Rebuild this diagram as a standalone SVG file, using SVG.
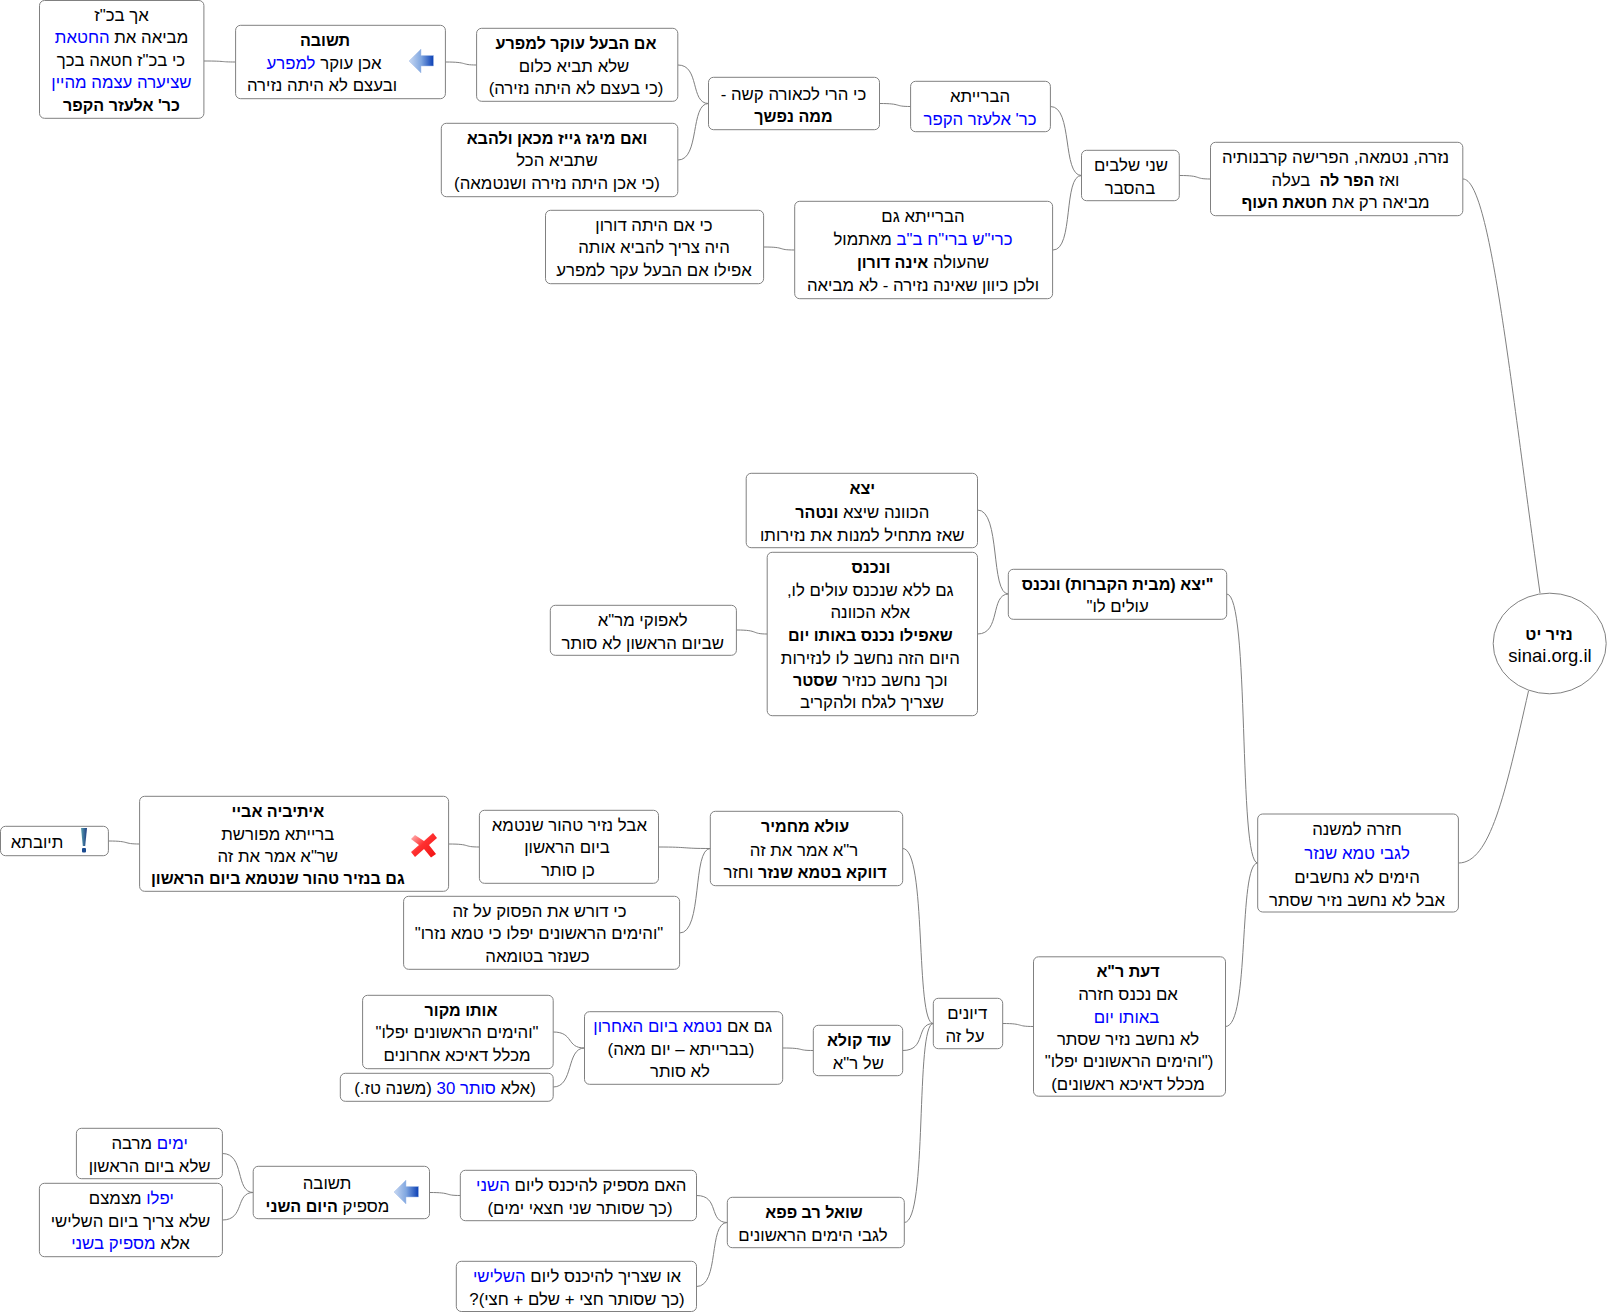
<svg xmlns="http://www.w3.org/2000/svg" width="1607" height="1312" viewBox="0 0 1607 1312">
<style>
.n{fill:#fff;stroke:#808080;stroke-width:1}
text{font-family:"Liberation Sans",Arial,sans-serif;font-size:16.800px;fill:#000;text-anchor:middle;direction:rtl;white-space:pre}
.b{font-weight:bold;font-size:16.100px}
.u{fill:#0000ff}
.c{fill:none;stroke:#808080;stroke-width:1}
.up text{transform:translateY(-1px)}
</style>
<defs>
<linearGradient id="ga" x1="0" x2="1" y1="0" y2="0"><stop offset="0" stop-color="#c8d8f2"/><stop offset="0.5" stop-color="#7fa6e0"/><stop offset="1" stop-color="#0b3fb5"/></linearGradient>
<linearGradient id="gx" x1="0" x2="1" y1="0" y2="1"><stop offset="0" stop-color="#ffc8c8"/><stop offset="0.45" stop-color="#ff3030"/><stop offset="1" stop-color="#f01010"/></linearGradient>
<linearGradient id="ge" x1="0" x2="1" y1="0" y2="0"><stop offset="0" stop-color="#5aa0b0"/><stop offset="1" stop-color="#1a3a80"/></linearGradient>
<path id="arrow" d="M0,12 L12,0 V6.500 H24.500 V17 H12 V24 Z" fill="url(#ga)" stroke="#a8c0e8" stroke-width="0.500"/>
</defs>
<g id="connectors">
<path class="c" d="M204,61 C227,61 219,62 235.500,62"/>
<path class="c" d="M445.500,62 C469,62 460,65 476.500,65"/>
<path class="c" d="M678,65 C700,65 690,103.500 708.500,103.500"/>
<path class="c" d="M678,160 C700,160 690,103.500 708.500,103.500"/>
<path class="c" d="M879.500,103.500 C903,103.500 893,106.500 910.500,106.500"/>
<path class="c" d="M1050.500,106.500 C1073,106.500 1062,175.500 1081.500,175.500"/>
<path class="c" d="M1053,250 C1074,250 1063,175.500 1081.500,175.500"/>
<path class="c" d="M764,247 C787,247 776,250 794.500,250"/>
<path class="c" d="M1179.500,175.500 C1203,175.500 1193,179 1210.500,179"/>
<path class="c" d="M1463,179 C1490,179 1510,380 1540,593"/>
<path class="c" d="M1528.500,691 C1505,795 1490,863 1458.500,863"/>
<path class="c" d="M1226.700,594 C1250,594 1238,863 1257.700,863"/>
<path class="c" d="M1225.500,1026.500 C1250,1026.500 1238,863 1257.700,863"/>
<path class="c" d="M977.500,510 C1001,510 990,594 1008.500,594"/>
<path class="c" d="M977.500,634 C1001,634 990,594 1008.500,594"/>
<path class="c" d="M736.500,630 C760,630 750,634 767.500,634"/>
<path class="c" d="M1002.700,1023.500 C1025,1023.500 1015,1026.500 1033.500,1026.500"/>
<path class="c" d="M902.700,848.500 C927,848.500 915,1023.500 933.300,1023.500"/>
<path class="c" d="M902.700,1050.500 C927,1050.500 915,1023.500 933.300,1023.500"/>
<path class="c" d="M904.300,1222.500 C928,1222.500 915,1023.500 933.300,1023.500"/>
<path class="c" d="M658.500,847 C690,847 680,848.500 710.400,848.500"/>
<path class="c" d="M679.600,933 C703,933 692,848.500 710.400,848.500"/>
<path class="c" d="M448.700,844 C472,844 462,847 479.400,847"/>
<path class="c" d="M108.500,841 C131,841 122,844 139.600,844"/>
<path class="c" d="M782.700,1048 C806,1048 796,1050.500 813.300,1050.500"/>
<path class="c" d="M553.200,1032 C574,1032 566,1048 584.500,1048"/>
<path class="c" d="M553.200,1087 C574,1087 566,1048 584.500,1048"/>
<path class="c" d="M696.500,1195.500 C720,1195.500 708,1222.500 727.300,1222.500"/>
<path class="c" d="M696.500,1286.500 C720,1286.500 708,1222.500 727.300,1222.500"/>
<path class="c" d="M429.500,1192.500 C453,1192.500 443,1195.500 460.300,1195.500"/>
<path class="c" d="M222.400,1153.500 C245,1153.500 235,1192.500 253.200,1192.500"/>
<path class="c" d="M222.400,1220 C245,1220 235,1192.500 253.200,1192.500"/>
</g>
<g id="n-root"><ellipse class="n" cx="1549.700" cy="643.500" rx="56.500" ry="50.300"/>
<text class="b" x="1549" y="640">נזיר יט</text><text x="1550" y="662" style="font-size:18.500px">sinai.org.il</text></g>
<g id="n-hazara"><rect class="n" x="1257.700" y="814" width="200.700" height="98" rx="5"/>
<text x="1357" y="835">חזרה למשנה</text><text class="u" x="1357" y="859">לגבי טמא שנזר</text><text x="1357" y="883">הימים לא נחשבים</text><text x="1357" y="906">אבל לא נחשב נזיר שסתר</text></g>
<g id="n-nezira" class="up"><rect class="n" x="1210.500" y="142.300" width="252.300" height="73.400" rx="5"/>
<text x="1335.500" y="163.500">נזרה, נטמאה, הפרישה קרבנותיה</text><text x="1335.500" y="186.500">ואז <tspan class="b">הפר לה</tspan>  בעלה</text><text x="1335.500" y="208.500">מביאה רק את <tspan class="b">חטאת העוף</tspan></text></g>
<g id="n-shnei"><rect class="n" x="1081.500" y="150.300" width="97.800" height="50.400" rx="5"/>
<text x="1131" y="171">שני שלבים</text><text x="1130" y="194">בהסבר</text></g>
<g id="n-braita1" class="up"><rect class="n" x="910.600" y="81.300" width="139.800" height="50.400" rx="5"/>
<text x="980" y="102.500">הברייתא</text><text class="u" x="980" y="126">כר' אלעזר הקפר</text></g>
<g id="n-braita2" class="up"><rect class="n" x="794.700" y="201.300" width="257.900" height="97.400" rx="5"/>
<text x="923" y="222.500">הברייתא גם</text><text x="923" y="245.500"><tspan class="u">כרי"ש ברי"ח ב"ב</tspan> מאתמול</text><text x="923" y="268.500">שהעולה <tspan class="b">אינה דורון</tspan></text><text x="923" y="291.500">ולכן כיוון שאינה נזירה - לא מביאה</text></g>
<g id="n-dorom" class="up"><rect class="n" x="545.500" y="210.300" width="218.100" height="73.400" rx="5"/>
<text x="654" y="231.500">כי אם היתה דורון</text><text x="654" y="254">היה צריך להביא אותה</text><text x="654" y="276.500">אפילו אם הבעל עקר למפרע</text></g>
<g id="n-kashe" class="up"><rect class="n" x="708.500" y="77.300" width="171" height="52.400" rx="5"/>
<text x="793.500" y="101">כי הרי לכאורה קשה -</text><text class="b" x="793.500" y="123">ממה נפשך</text></g>
<g id="n-baal"><rect class="n" x="476.600" y="28.300" width="201.200" height="73" rx="5"/>
<text class="b" x="576" y="49">אם הבעל עוקר למפרע</text><text x="574" y="72">שלא תביא כלום</text><text x="576" y="94">(כי בעצם לא היתה נזירה)</text></g>
<g id="n-migaz" class="up"><rect class="n" x="441.300" y="123.300" width="236.500" height="73.400" rx="5"/>
<text class="b" x="557" y="144.500">ואם מיגז גייז מכאן ולהבא</text><text x="557" y="167">שתביא הכל</text><text x="557" y="189.500">(כי אכן היתה נזירה ושנטמאה)</text></g>
<g id="n-tshuva1"><rect class="n" x="235.600" y="25.300" width="209.800" height="73.400" rx="5"/>
<text class="b" x="325" y="46">תשובה</text><text x="324" y="69">אכן עוקר <tspan class="u">למפרע</tspan></text><text x="322" y="91">ובעצם לא היתה נזירה</text>
<use href="#arrow" x="409" y="49"/></g>
<g id="n-akh" class="up"><rect class="n" x="39.500" y="0.500" width="164.400" height="117.800" rx="5"/>
<text x="121.500" y="21.500">אך בכ"ז</text><text x="121.500" y="44">מביאה את <tspan class="u">החטאת</tspan></text><text x="121" y="66.500">כי בכ"ז חטאה בכך</text><text class="u" x="121.500" y="89">שציערה עצמה מהיין</text><text class="b" x="121.500" y="111.500">כר' אלעזר הקפר</text></g>
<g id="n-yatza" class="up"><rect class="n" x="1008.300" y="569.300" width="218.400" height="50" rx="5"/>
<text class="b" x="1117.600" y="591">"יצא (מבית הקברות) ונכנס</text><text x="1117.600" y="613">עולים לו"</text></g>
<g id="n-yetza"><rect class="n" x="746.200" y="473.300" width="231.300" height="74.400" rx="5"/>
<text class="b" x="862.300" y="494">יצא</text><text x="862.300" y="518">הכוונה שיצא <tspan class="b">ונטהר</tspan></text><text x="862.300" y="541">שאז מתחיל למנות את נזירותו</text></g>
<g id="n-nichnas"><rect class="n" x="767.200" y="552.300" width="210.300" height="163.400" rx="5"/>
<text class="b" x="871" y="572.500">ונכנס</text><text x="870.300" y="596">גם ללא שנכנס עולים לו,</text><text x="870.300" y="617.500">אלא הכוונה</text><text class="b" x="870.300" y="641">שאפילו נכנס באותו יום</text><text x="870.300" y="663.500">היום הזה נחשב לו לנזירות</text><text x="870.300" y="686">וכך נחשב כנזיר <tspan class="b">שסטר</tspan></text><text x="872" y="708">שצריך לגלח ולהקריב</text></g>
<g id="n-lafoki"><rect class="n" x="550.300" y="605.300" width="186.100" height="50" rx="5"/>
<text x="642.700" y="626">לאפוקי מר"א</text><text x="642.700" y="649">שביום הראשון לא סותר</text></g>
<g id="n-daat"><rect class="n" x="1033.500" y="956.800" width="192" height="139.400" rx="5"/>
<text class="b" x="1128" y="977">דעת ר"א</text><text x="1128" y="1000">אם נכנס חזרה</text><text class="u" x="1126.500" y="1022.500">באותו יום</text><text x="1128" y="1044.500">לא נחשב נזיר שסתר</text><text x="1129" y="1067">("והימים הראשונים יפלו"</text><text x="1128" y="1090">מכלל דאיכא ראשונים)</text></g>
<g id="n-diyunim"><rect class="n" x="933.300" y="998.300" width="69.400" height="50.400" rx="5"/>
<text x="967.300" y="1019">דיונים</text><text x="965" y="1042">על זה</text></g>
<g id="n-ulla" class="up"><rect class="n" x="710.300" y="811.300" width="192.400" height="74.400" rx="5"/>
<text class="b" x="805" y="832.500">עולא מחמיר</text><text x="804" y="856.500">ר"א אמר את זה</text><text x="805" y="879"><tspan class="b">דווקא בטמא שנזר</tspan> וחזר</text></g>
<g id="n-aval" class="up"><rect class="n" x="479.400" y="810.300" width="179.100" height="73" rx="5"/>
<text x="569.400" y="831.500">אבל נזיר טהור שנטמא</text><text x="567" y="854">ביום הראשון</text><text x="568" y="876.500">כן סותר</text></g>
<g id="n-dorash" class="up"><rect class="n" x="403.600" y="896.300" width="276" height="73" rx="5"/>
<text x="539.500" y="917.500">כי דורש את הפסוק על זה</text><text x="539" y="940">"והימים הראשונים יפלו כי טמא נזרו"</text><text x="537.500" y="962.500">כשנזר בטומאה</text></g>
<g id="n-eitivei" class="up"><rect class="n" x="139.600" y="796.300" width="309" height="95" rx="5"/>
<text class="b" x="277.800" y="817.500">איתיביה אביי</text><text x="277.800" y="841">ברייתא מפורשת</text><text x="277.800" y="862.500">שר"א אמר את זה</text><text class="b" x="277.800" y="885">גם בנזיר טהור שנטמא ביום הראשון</text>
<path d="M415,835 L424,841 L433,833 L437,838 L429,845 L436,854 L431,857.500 L424,849 L415,857 L411,852 L419,845 L411,839 Z" fill="url(#gx)"/></g>
<g id="n-teyuvta"><rect class="n" x="0.500" y="826.300" width="107.900" height="29.400" rx="5"/>
<text x="37" y="848">תיובתא</text>
<path d="M81,828 H87 L85.200,846 H82.800 Z" fill="url(#ge)"/><rect x="82" y="848" width="4" height="4.500" rx="1" fill="#1a4a90"/></g>
<g id="n-odkula"><rect class="n" x="813.300" y="1025.300" width="89.400" height="50.400" rx="5"/>
<text class="b" x="859" y="1046">עוד קולא</text><text x="858.300" y="1069">של ר"א</text></g>
<g id="n-gamim" class="up"><rect class="n" x="584.500" y="1011.700" width="198.200" height="72.600" rx="5"/>
<text x="682.700" y="1033">גם אם <tspan class="u">נטמא ביום האחרון</tspan></text><text x="681" y="1056">(בברייתא – יום מאה)</text><text x="680" y="1077.500">לא סותר</text></g>
<g id="n-oto" class="up"><rect class="n" x="362.600" y="995.300" width="190.600" height="73.400" rx="5"/>
<text class="b" x="461" y="1016.500">אותו מקור</text><text x="457" y="1039">"והימים הראשונים יפלו"</text><text x="457" y="1062">מכלל דאיכא אחרונים</text></g>
<g id="n-ela"><rect class="n" x="340.300" y="1073.300" width="212.900" height="28" rx="5"/>
<text x="445" y="1094">(אלא <tspan class="u">סותר 30</tspan> (משנה טז.)</text></g>
<g id="n-shoel"><rect class="n" x="727.300" y="1197.300" width="177" height="50.400" rx="5"/>
<text class="b" x="814" y="1217.500">שואל רב פפא</text><text x="813" y="1241">לגבי הימים הראשונים</text></g>
<g id="n-haim" class="up"><rect class="n" x="460.300" y="1170.300" width="236.200" height="50.400" rx="5"/>
<text x="581.300" y="1192">האם מספיק להיכנס ליום <tspan class="u">השני</tspan></text><text x="580" y="1215">(כך שסותר שני חצאי ימים)</text></g>
<g id="n-o" class="up"><rect class="n" x="456.300" y="1261.300" width="240.200" height="50.200" rx="5"/>
<text x="577" y="1282.500">או שצריך להיכנס ליום <tspan class="u">השלישי</tspan></text><text x="577" y="1306">(כך שסותר חצי + שלם + חצי)?</text></g>
<g id="n-tshuva2" class="up"><rect class="n" x="253.200" y="1166.300" width="176.300" height="52.400" rx="5"/>
<text x="327" y="1190">תשובה</text><text x="327.500" y="1212.500">מספיק <tspan class="b">היום השני</tspan></text>
<use href="#arrow" x="394" y="1180"/></g>
<g id="n-yamim" class="up"><rect class="n" x="76.400" y="1128.300" width="146" height="50.400" rx="5"/>
<text x="149.600" y="1150"><tspan class="u">ימים</tspan> מרבה</text><text x="149.600" y="1172.500">שלא ביום הראשון</text></g>
<g id="n-yiflu" class="up"><rect class="n" x="39.400" y="1183.300" width="183" height="73.400" rx="5"/>
<text x="131.300" y="1204.500"><tspan class="u">יפלו</tspan> מצמצם</text><text x="130.500" y="1227.500">שלא צריך ביום השלישי</text><text x="130.500" y="1250">אלא <tspan class="u">מספיק בשני</tspan></text></g>
</svg>
